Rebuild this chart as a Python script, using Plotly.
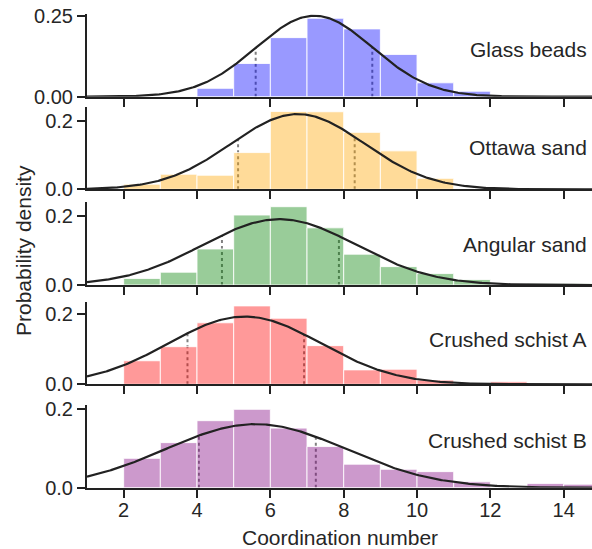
import numpy as np
import plotly.graph_objects as go

# ---------------- data ----------------
bin_left = [1, 2, 3, 4, 5, 6, 7, 8, 9, 10, 11, 12, 13, 14]   # histogram bins of width 1
materials = ["Glass beads", "Ottawa sand", "Angular sand", "Crushed schist A", "Crushed schist B"]

glass_beads      = [0, 0, 0, 0.026, 0.103, 0.183, 0.243, 0.210, 0.131, 0.043, 0.017, 0, 0, 0]
ottawa_sand      = [0, 0.015, 0.044, 0.041, 0.107, 0.227, 0.226, 0.166, 0.112, 0.032, 0, 0, 0, 0]
angular_sand     = [0, 0.019, 0.037, 0.104, 0.202, 0.226, 0.165, 0.089, 0.053, 0.033, 0.016, 0, 0.004, 0.004]
crushed_schist_a = [0, 0.067, 0.107, 0.175, 0.223, 0.188, 0.110, 0.041, 0.043, 0.012, 0, 0.007, 0, 0]
crushed_schist_b = [0, 0.075, 0.115, 0.171, 0.200, 0.152, 0.105, 0.060, 0.047, 0.041, 0.015, 0, 0.011, 0.009]

fit_mean = [7.20, 6.75, 6.25, 5.30, 5.60]     # fitted normal curves
fit_sd   = [1.59, 1.82, 2.10, 2.07, 2.46]
lower_mark = [5.60, 5.12, 4.68, 3.74, 4.05]   # dotted lines
upper_mark = [8.78, 8.30, 7.87, 6.92, 7.24]

y_tickvals = [[0, 0.25], [0, 0.2], [0, 0.2], [0, 0.2], [0, 0.2]]
y_ticktext = [["0.00", "0.25"], ["0.0", "0.2"], ["0.0", "0.2"], ["0.0", "0.2"], ["0.0", "0.2"]]
x_tickvals = [2, 4, 6, 8, 10, 12, 14]

heights = [glass_beads, ottawa_sand, angular_sand, crushed_schist_a, crushed_schist_b]

# ---------------- styling / layout ----------------
W, H = 592, 549
L = 87
bar_colors = ["rgba(0,0,255,0.4)", "rgba(255,165,0,0.4)", "rgba(0,128,0,0.4)",
              "rgba(255,0,0,0.4)", "rgba(128,0,128,0.4)"]
# panel pixel extents (top, bottom) and y-axis upper limits
panel_px = [(14.3, 96.7), (107.3, 189.3), (202.3, 285.0), (301.7, 384.3), (405.0, 487.7)]
y_top = [0.2553, 0.239, 0.2387, 0.235, 0.211]
label_px = [49, 147.5, 244, 339, 440]
x_range = [1, 1 + (W - L) / 36.67]

FONT = "Liberation Sans, Arial, sans-serif"
TXT = "#262626"
AX = "#222222"


def pdf(x, m, s):
    return np.exp(-0.5 * ((x - m) / s) ** 2) / (s * np.sqrt(2 * np.pi))


def ypaper(p):
    return 1 - p / H


fig = go.Figure()
shapes = []
annotations = []
xgrid = np.linspace(x_range[0], x_range[1], 400)

for i in range(5):
    k = "" if i == 0 else str(i + 1)
    xs = [b + 0.5 for b, h in zip(bin_left, heights[i]) if h > 0]
    hs = [h for h in heights[i] if h > 0]
    fig.add_trace(go.Bar(
        x=xs, y=hs, width=1, xaxis="x" + k, yaxis="y" + k,
        marker=dict(color=bar_colors[i], line=dict(color="rgba(255,255,255,0.85)", width=1)),
        showlegend=False, hoverinfo="skip"))
    fig.add_trace(go.Scatter(
        x=xgrid, y=pdf(xgrid, fit_mean[i], fit_sd[i]), mode="lines",
        xaxis="x" + k, yaxis="y" + k,
        line=dict(color=AX, width=2.2), showlegend=False, hoverinfo="skip"))
    for xm in (lower_mark[i], upper_mark[i]):
        shapes.append(dict(type="line", xref="x" + k, yref="y" + k, layer="below",
                           x0=xm, x1=xm, y0=0, y1=float(pdf(xm, fit_mean[i], fit_sd[i])),
                           line=dict(color="#808080", width=2, dash="dot")))
    top, bot = panel_px[i]
    fig.layout["xaxis" + k] = dict(
        domain=[0, 1], anchor="y" + k, range=x_range, showline=True, linecolor=AX, linewidth=2,
        ticks="outside", ticklen=8, tickwidth=1.5, tickcolor=AX, tickvals=x_tickvals,
        showticklabels=(i == 4), showgrid=False, zeroline=False,
        tickfont=dict(family=FONT, size=20, color=TXT), ticklabelstandoff=-5)
    fig.layout["yaxis" + k] = dict(
        domain=[ypaper(bot), ypaper(top)], anchor="x" + k, range=[0, y_top[i]],
        showline=True, linecolor=AX, linewidth=2, ticks="outside", ticklen=8, tickwidth=1.5,
        tickcolor=AX, tickvals=y_tickvals[i], ticktext=y_ticktext[i], showgrid=False,
        zeroline=False, tickfont=dict(family=FONT, size=20, color=TXT))
    annotations.append(dict(text=materials[i], xref="paper", yref="paper",
                            x=(589 - L) / (W - L), y=ypaper(label_px[i]), xanchor="right",
                            yanchor="middle", showarrow=False,
                            font=dict(family=FONT, size=21, color=TXT)))

annotations.append(dict(text="Coordination number", xref="paper", yref="paper",
                        x=0.5, y=ypaper(537), xanchor="center", yanchor="middle",
                        showarrow=False, font=dict(family=FONT, size=21, color=TXT)))
annotations.append(dict(text="Probability density", xref="paper", yref="paper",
                        x=(23 - L) / (W - L), y=ypaper(251), xanchor="center", yanchor="middle",
                        textangle=-90, showarrow=False, font=dict(family=FONT, size=21, color=TXT)))

fig.update_layout(width=W, height=H, margin=dict(l=L, r=0, t=0, b=0, autoexpand=False),
                  paper_bgcolor="white", plot_bgcolor="white", barmode="overlay",
                  shapes=shapes, annotations=annotations)

fig.write_html("out.html", config={"displayModeBar": False},
               post_script="document.body.style.margin='0';document.body.style.overflow='hidden';")
